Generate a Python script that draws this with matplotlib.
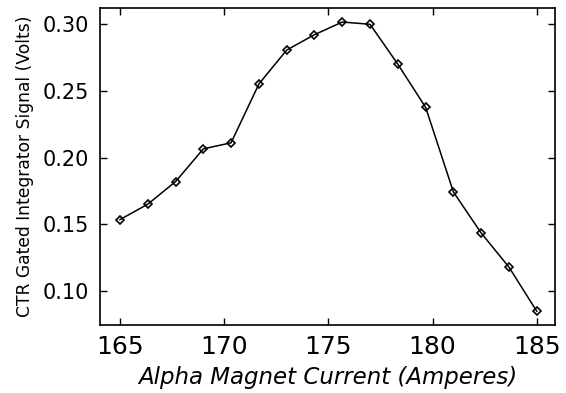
import numpy as np
import matplotlib
matplotlib.use("Agg")
import matplotlib.pyplot as plt

## Alpha magnet current (A) and CTR signal (V)
current = [165.0, 166.33, 167.67, 169.0, 170.33, 171.67, 173.0, 174.33,
           175.67, 177.0, 178.33, 179.67, 181.0, 182.33, 183.67, 185.0]
signal = [0.1535, 0.165, 0.182, 0.2065, 0.211, 0.2552, 0.2805, 0.292,
          0.3015, 0.2998, 0.270, 0.2375, 0.1742, 0.1435, 0.1178, 0.0848]

xticks = [165, 170, 175, 180, 185]
yticks = [0.10, 0.15, 0.20, 0.25, 0.30]

fig = plt.figure(figsize=(5.66, 3.93), dpi=100)
ax = fig.add_axes([0.1767, 0.173, 0.804, 0.8066])

ax.plot(current, signal, 'k-', lw=1.1, marker='D', markersize=4.5,
        markerfacecolor='none', markeredgecolor='k', markeredgewidth=1.2)

ax.set_xlim(164.04, 185.88)
ax.set_ylim(0.0745, 0.312)
ax.set_xticks(xticks)
ax.set_xticklabels([str(t) for t in xticks])
ax.set_yticks(yticks)
ax.set_yticklabels(['%.2f' % t for t in yticks])

ax.tick_params(direction='in', top=True, right=True, length=5, width=1)
ax.tick_params(axis='x', labelsize=18, pad=7)
ax.tick_params(axis='y', labelsize=15, pad=8)
for s in ax.spines.values():
    s.set_linewidth(1.2)

ax.set_xlabel('Alpha Magnet Current (Amperes)', fontsize=16.5, style='italic', labelpad=5)
ax.set_ylabel('CTR Gated Integrator Signal (Volts)', fontsize=12.3, labelpad=6)

fig.savefig('out.png', dpi=100)
